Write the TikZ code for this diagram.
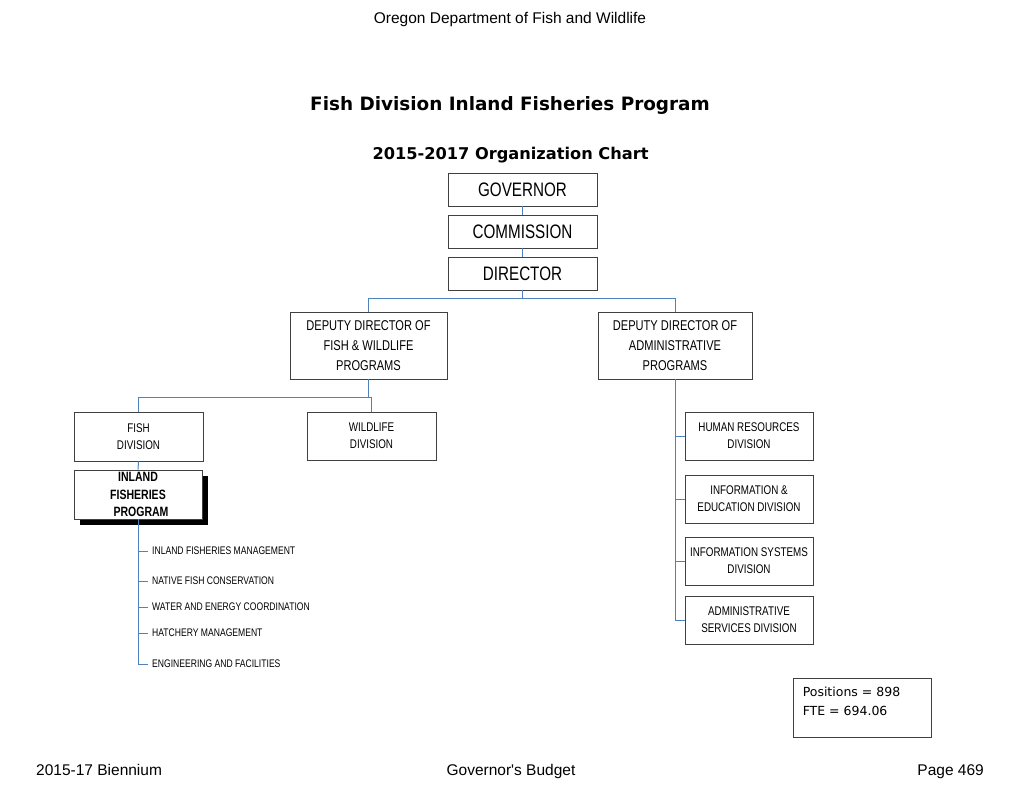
\documentclass[tikz,border=0pt]{standalone}
\usepackage{fontspec}
\setmainfont{Liberation Sans}[Ligatures=TeXOff]
\newfontfamily\verd{DejaVu Sans}
\newfontfamily\narrow[FakeStretch=0.78]{Liberation Sans}
\usetikzlibrary{shadows}
\definecolor{connc}{RGB}{79,129,189}
\definecolor{bord}{RGB}{64,64,64}
\tikzset{
  orgbox/.style={draw=bord, line width=0.9pt, fill=white, align=center, inner sep=0pt},
  bigbox/.style={orgbox, minimum width=149pt, minimum height=33pt, font=\narrow\fontsize{19.5}{20}\selectfont},
  depbox/.style={orgbox, minimum height=67pt, font=\narrow\fontsize{14.2}{20}\selectfont},
  divbox/.style={orgbox, minimum width=129pt, minimum height=48pt, font=\narrow\fontsize{12.6}{17}\selectfont},
  conn/.style={draw=connc, line width=1pt},
  item/.style={anchor=west, inner sep=0pt, font=\narrow\fontsize{11}{13}\selectfont},
  plain/.style={inner sep=0pt},
  foot/.style={plain, font=\fontsize{15.5}{17}\selectfont}
}
\begin{document}
\begin{tikzpicture}[x=1pt,y=-1pt]
\useasboundingbox (0,0) rectangle (1020,788);
% header
\node[foot] (hdr) at (510,19) {Oregon Department of Fish and Wildlife};
\node[plain, font=\verd\bfseries\fontsize{18.4}{22}\selectfont] (title) at (510,105) {Fish Division Inland Fisheries Program};
\node[plain, font=\verd\bfseries\fontsize{16.2}{19}\selectfont] (sub) at (510.5,155) {2015-2017 Organization Chart};
% top chain
\node[bigbox] (gov) at (522.5,189.5) {GOVERNOR};
\node[bigbox] (com) at (522.5,231.5) {COMMISSION};
\node[bigbox] (dir) at (522.5,273.5) {DIRECTOR};
\node[depbox, minimum width=157pt] (depfw) at (368.5,345.5) {DEPUTY DIRECTOR OF\\FISH \& WILDLIFE\\PROGRAMS};
\node[depbox, minimum width=154pt] (depad) at (675,345.5) {DEPUTY DIRECTOR OF\\ADMINISTRATIVE\\PROGRAMS};
% divisions
\node[divbox, minimum height=49pt] (fish) at (138.5,436.5) {FISH\\DIVISION};
\node[divbox] (wild) at (371.5,436) {WILDLIFE\\DIVISION};
\node[orgbox, minimum width=128pt, minimum height=49pt,
      general shadow={fill=black, shadow xshift=6pt, shadow yshift=-6pt},
      font=\narrow\bfseries\fontsize{13.5}{17.5}\selectfont] (inland) at (138,494.5) {INLAND\\FISHERIES\\\hspace*{6pt}PROGRAM};
% admin divisions
\node[divbox, minimum width=128pt] (hr) at (749,436) {HUMAN RESOURCES\\DIVISION};
\node[divbox, minimum width=128pt] (ie) at (749,499) {INFORMATION \&\\EDUCATION DIVISION};
\node[divbox, minimum width=128pt] (is) at (749,561) {INFORMATION SYSTEMS\\DIVISION};
\node[divbox, minimum width=128pt] (as) at (749,620) {ADMINISTRATIVE\\SERVICES DIVISION};
% program items
\node[item] (i1) at (152,551) {INLAND FISHERIES MANAGEMENT};
\node[item] (i2) at (152,581) {NATIVE FISH CONSERVATION};
\node[item] (i3) at (152,607) {WATER AND ENERGY COORDINATION};
\node[item] (i4) at (152,633) {HATCHERY MANAGEMENT};
\node[item] (i5) at (152,664) {ENGINEERING AND FACILITIES};
% positions box
\node[draw=bord, line width=0.9pt, minimum width=138pt, minimum height=59pt, inner sep=0pt] (pos) at (862,707.5) {};
\node[plain, anchor=north west, align=left, font=\verd\fontsize{12.5}{19}\selectfont] (postxt) at ([xshift=10pt,yshift=-9pt]pos.north west) {Positions = 898\\FTE = 694.06};
% footer
\node[foot, anchor=base west] (f1) at (36,775) {2015-17 Biennium};
\node[foot, anchor=base] (f2) at (511,775) {Governor's Budget};
\node[foot, anchor=base east] (f3) at (984,775) {Page 469};
% connectors
\draw[conn] (gov.south) -- (com.north);
\draw[conn] (com.south) -- (dir.north);
\draw[conn] (dir.south) -- ++(0,8) coordinate (j1);
\draw[conn] (j1) -| (depfw.north);
\draw[conn] (j1) -| (depad.north);
\draw[conn] (depfw.south) -- ++(0,18) coordinate (j2);
\draw[conn] (j2) -| (fish.north);
\draw[conn] (j2) -| (wild.north);
\draw[conn] (fish.south) -- (inland.north);
\draw[conn] (inland.south) |- ([xshift=-4pt]i5.west);
\foreach \n in {i1,i2,i3,i4} \draw[conn] (inland.south |- \n.west) -- ([xshift=-4pt]\n.west);
\draw[conn] (depad.south) |- (as.west);
\foreach \n in {hr,ie,is} \draw[conn] (depad.south |- \n.west) -- (\n.west);
\end{tikzpicture}
\end{document}
